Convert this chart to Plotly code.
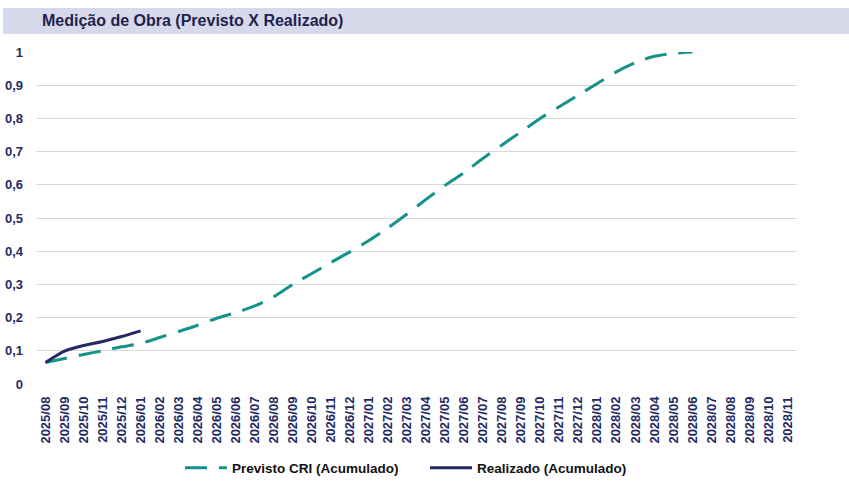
import plotly.graph_objects as go

# meses (eixo categórico)
meses = [
    '2025/08', '2025/09', '2025/10', '2025/11', '2025/12',
    '2026/01', '2026/02', '2026/03', '2026/04', '2026/05', '2026/06',
    '2026/07', '2026/08', '2026/09', '2026/10', '2026/11', '2026/12',
    '2027/01', '2027/02', '2027/03', '2027/04', '2027/05', '2027/06',
    '2027/07', '2027/08', '2027/09', '2027/10', '2027/11', '2027/12',
    '2028/01', '2028/02', '2028/03', '2028/04', '2028/05', '2028/06',
    '2028/07', '2028/08', '2028/09', '2028/10', '2028/11']

previsto = [0.065, 0.077, 0.089, 0.100, 0.112, 0.122, 0.140, 0.158, 0.177,
            0.198, 0.215, 0.235, 0.263, 0.300, 0.333, 0.366, 0.398, 0.432,
            0.470, 0.512, 0.556, 0.598, 0.637, 0.680, 0.720, 0.760, 0.800,
            0.835, 0.870, 0.905, 0.940, 0.968, 0.987, 0.996, 1.000]
realizado = [0.065, 0.099, 0.116, 0.128, 0.143, 0.160]

navy = '#232A63'
teal = '#15928C'

fig = go.Figure()
fig.add_trace(go.Scatter(x=meses[:len(previsto)], y=previsto, mode='lines',
                         name='Previsto CRI (Acumulado)',
                         line=dict(color=teal, width=3, dash='22px,12px',
                                   shape='spline', smoothing=0.6),
                         cliponaxis=False))
fig.add_trace(go.Scatter(x=meses[:len(realizado)], y=realizado, mode='lines',
                         name='Realizado (Acumulado)',
                         line=dict(color=navy, width=3, shape='spline', smoothing=0.6),
                         cliponaxis=False))

W, H = 849, 488
ml, mr, mt, mb = 36, 52, 52, 104
pw, ph = W - ml - mr, H - mt - mb

def px_x(p):
    return (p - ml) / pw

def px_y(p):
    return 1 + (mt - p) / ph

fig.update_layout(
    width=W, height=H,
    margin=dict(l=ml, r=mr, t=mt, b=mb, autoexpand=False),
    paper_bgcolor='white', plot_bgcolor='white',
    font=dict(family='Liberation Sans, Arial, sans-serif', color=navy),
    showlegend=True,
    legend=dict(orientation='h', x=180 / W, xanchor='left', xref='container',
                y=1 - 468 / H, yanchor='middle', yref='container',
                font=dict(size=13.5, color='#111111', weight='bold'),
                itemwidth=42, entrywidth=188, tracegroupgap=0),
    xaxis=dict(type='category', categoryorder='array', categoryarray=meses,
               range=[-0.5, len(meses) - 0.5], automargin=False,
               tickangle=-90, tickfont=dict(size=13, color=navy, weight='bold'),
               showgrid=False, showline=False, zeroline=False,
               ticks='', ticklabelstandoff=9),
    yaxis=dict(range=[0, 1], dtick=0.1, tickformat='.1~f', automargin=False,
               tickfont=dict(size=13, color=navy, weight='bold'),
               showgrid=True, gridcolor='#D9D9D9', gridwidth=1,
               zeroline=False, showline=False, ticks='', ticklabelstandoff=12),
    separators=',.',
    shapes=[dict(type='rect', xref='paper', yref='paper',
                 x0=px_x(3), x1=px_x(849), y0=px_y(34), y1=px_y(8),
                 fillcolor='#D7D9EA', line=dict(width=0), layer='below')],
    annotations=[dict(text='Medição de Obra (Previsto X Realizado)',
                      xref='paper', yref='paper', x=px_x(40), y=px_y(21),
                      xanchor='left', yanchor='middle', showarrow=False,
                      font=dict(size=16, color='#1E2350', weight='bold'))],
)

# sem a margem padrão do <body>
fig.write_html('out.html', config={'displayModeBar': False},
               post_script="document.body.style.margin='0';")
